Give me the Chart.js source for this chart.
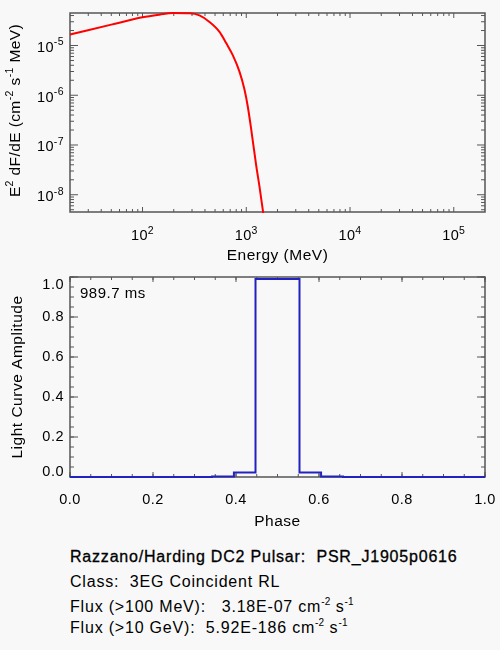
<!DOCTYPE html>
<html>
<head>
<meta charset="utf-8">
<script src="https://cdn.jsdelivr.net/npm/chart.js@4.4.1/dist/chart.umd.min.js"></script>
<style>
html,body{margin:0;padding:0;background:#f8f8f8;}
body{width:500px;height:650px;position:relative;overflow:hidden;font-family:'Liberation Sans',Arial,sans-serif;color:#000;}
#c1{position:absolute;left:0;top:0;}
#c2{position:absolute;left:0;top:270px;}
.line{position:absolute;left:70px;font-size:16px;letter-spacing:0.8px;white-space:pre;line-height:20px;}
.sup{font-size:10px;position:relative;top:-7px;letter-spacing:0.2px;}
#l1{-webkit-text-stroke:0.3px #000;}
</style>
</head>
<body>
<canvas id="c1" width="500" height="270" style="width:500px;height:270px"></canvas>
<canvas id="c2" width="500" height="265" style="width:500px;height:265px"></canvas>
<div id="l1" class="line" style="top:547px"></div>
<div id="l2" class="line" style="top:572px"></div>
<div id="l3" class="line" style="top:597px"></div>
<div id="l4" class="line" style="top:618px"></div>
<script>
// ---------- data ----------
const energyMeV = [20, 50, 100, 146, 196, 284, 354, 442, 552, 640, 741, 860, 961, 1034, 1115, 1246, 1340, 1442, 1500];
const e2dFdE   = [1.66e-5, 2.63e-5, 3.68e-5, 4.17e-5, 4.5e-5, 4.45e-5, 4.04e-5, 2.98e-5, 1.88e-5, 1.12e-5,
                  6.4e-6, 2.98e-6, 1.3e-6, 5.94e-7, 2.09e-7, 3.9e-8, 1.47e-8, 5.0e-9, 2.6e-9];

const phaseBinStart = [0.0, 0.342, 0.395, 0.447, 0.553, 0.605, 0.658, 1.0];
const amplitude     = [0.0, 0.003, 0.023, 0.99, 0.023, 0.003, 0.0, 0.0];

const energyTickValues = [1e2, 1e3, 1e4, 1e5];
const energyTickExp    = ['2', '3', '4', '5'];
const fluxTickValues   = [1e-8, 1e-7, 1e-6, 1e-5];
const fluxTickExp      = ['-8', '-7', '-6', '-5'];
const phaseTickValues  = [0, 0.2, 0.4, 0.6, 0.8, 1.0];
const phaseTickLabels  = ['0.0', '0.2', '0.4', '0.6', '0.8', '1.0'];
const ampTickValues    = [0, 0.2, 0.4, 0.6, 0.8, 1.0];
const ampTickLabels    = ['0.0', '0.2', '0.4', '0.6', '0.8', '1.0'];

const spectrumYTitle = [['E',0],['2',1],[' dF/dE (cm',0],['-2',1],[' s',0],['-1',1],[' MeV)',0]];
const periodLabel = '989.7 ms';
const pulsarTitle = 'Razzano/Harding DC2 Pulsar:  PSR_J1905p0616';
const pulsarClass = 'Class:  3EG Coincident RL';
const flux100Label = 'Flux (>100 MeV):   ';
const flux100Value = '3.18E-07';
const flux10GLabel = 'Flux (>10 GeV):  ';
const flux10GValue = '5.92E-186';

// ---------- minor tick helpers ----------
function logMinors(lo, hi){
  const out=[];
  for(let e=Math.floor(Math.log10(lo)); e<=Math.ceil(Math.log10(hi)); e++){
    for(let m=2;m<=9;m++){ const v=m*Math.pow(10,e); if(v>lo && v<hi) out.push(v); }
  }
  return out;
}
function linMinors(lo, hi, step){
  const out=[]; const n=Math.round((hi-lo)/step);
  for(let i=0;i<=n;i++) out.push(lo+i*step);
  return out;
}

const FONT = "'Liberation Sans', 'DejaVu Sans', sans-serif";
const FRAME = '#555555';

const frameTicks = {
  id:'frameTicks',
  beforeDraw(chart){ try{ chart.ctx.letterSpacing='0.5px'; }catch(e){} },
  beforeDatasetsDraw(chart, args, o){
    const {ctx, chartArea:a, scales} = chart;
    const xs=scales.x, ys=scales.y;
    ctx.save();
    ctx.strokeStyle=FRAME; ctx.lineWidth=1;
    const dx=(vals,len)=>vals.forEach(v=>{
      const p=xs.getPixelForValue(v); if(p<a.left-0.5||p>a.right+0.5) return;
      ctx.beginPath(); ctx.moveTo(p,a.bottom); ctx.lineTo(p,a.bottom-len);
      ctx.moveTo(p,a.top); ctx.lineTo(p,a.top+len); ctx.stroke();
    });
    const dy=(vals,len)=>vals.forEach(v=>{
      const p=ys.getPixelForValue(v); if(p<a.top-0.5||p>a.bottom+0.5) return;
      ctx.beginPath(); ctx.moveTo(a.left,p); ctx.lineTo(a.left+len,p);
      ctx.moveTo(a.right,p); ctx.lineTo(a.right-len,p); ctx.stroke();
    });
    dx(o.xMinor,3); dx(o.xMajor,5); dy(o.yMinor,4); dy(o.yMajor,8);
    ctx.lineWidth=1.5;
    ctx.strokeRect(a.left,a.top,a.right-a.left,a.bottom-a.top);
    ctx.restore();
  }
};

// rich text (base + superscripts) drawn on canvas
function richWidth(ctx, parts, size, supSize){
  let w=0;
  parts.forEach(([t,s])=>{ ctx.font=(s?supSize:size)+'px '+FONT; w+=ctx.measureText(t).width; });
  return w;
}
function drawRich(ctx, parts, x, y, align, size, supSize, raise){
  const w=richWidth(ctx, parts, size, supSize);
  let cx = align==='center' ? x-w/2 : (align==='right' ? x-w : x);
  ctx.textAlign='left'; ctx.textBaseline='alphabetic';
  parts.forEach(([t,s])=>{
    ctx.font=(s?supSize:size)+'px '+FONT;
    ctx.fillText(t, cx, s ? y-raise : y);
    cx+=ctx.measureText(t).width;
  });
}

const logLabels = {
  id:'logLabels',
  afterDraw(chart){
    const {ctx, chartArea:a, scales} = chart;
    ctx.save();
    try{ ctx.letterSpacing='0.4px'; }catch(e){}
    ctx.fillStyle='#000';
    energyTickValues.forEach((v,i)=>{
      const p=scales.x.getPixelForValue(v);
      drawRich(ctx, [['10',0],[energyTickExp[i],1]], p, a.bottom+28, 'center', 14.5, 10.5, 6.5);
    });
    fluxTickValues.forEach((v,i)=>{
      const p=scales.y.getPixelForValue(v);
      drawRich(ctx, [['10',0],[fluxTickExp[i],1]], a.left-6, p+6.5, 'right', 14.5, 10.5, 6.5);
    });
    // rotated y title
    ctx.translate(14, (a.top+a.bottom)/2 - 2);
    ctx.rotate(-Math.PI/2);
    drawRich(ctx, spectrumYTitle, 0, 5.5, 'center', 15.5, 10.5, 6.5);
    ctx.restore();
  }
};

function noPad(s){ s.paddingTop=0; s.paddingBottom=0; s.paddingLeft=0; s.paddingRight=0; }
function axisCommon(){
  return {grid:{display:false,drawTicks:false}, border:{display:false}, bounds:'data'};
}

// ---------- top chart: spectrum ----------
new Chart(document.getElementById('c1'), {
  type:'line',
  data:{datasets:[{
    data: energyMeV.map((e,i)=>({x:e,y:e2dFdE[i]})),
    borderColor:'#ff0000', borderWidth:2, pointRadius:0, fill:false,
    cubicInterpolationMode:'monotone', clip:1
  }]},
  options:{
    responsive:false, animation:false, events:[],
    layout:{padding:{top:13,right:15,left:0,bottom:0}},
    plugins:{legend:{display:false}, tooltip:{enabled:false},
      frameTicks:{xMajor:energyTickValues, xMinor:logMinors(20,2e5),
                  yMajor:fluxTickValues, yMinor:logMinors(4.5e-9,4.5e-5)}},
    scales:{
      x:Object.assign(axisCommon(),{
        type:'logarithmic', position:'bottom', min:20, max:2e5,
        afterBuildTicks:s=>{ s.ticks=energyTickValues.map(v=>({value:v})); },
        afterFit:s=>{ s.height=58; noPad(s); },
        ticks:{display:false},
        title:{display:true,text:'Energy (MeV)',color:'#000',font:{family:FONT,size:15.5},padding:{top:0,bottom:5}}
      }),
      y:Object.assign(axisCommon(),{
        type:'logarithmic', position:'left', min:4.5e-9, max:4.5e-5,
        afterBuildTicks:s=>{ s.ticks=fluxTickValues.map(v=>({value:v})); },
        afterFit:s=>{ s.width=70; noPad(s); },
        ticks:{display:false},
        title:{display:false}
      })
    }
  },
  plugins:[frameTicks, logLabels]
});

// ---------- bottom chart: light curve ----------
const nudge = {
  id:'nudge',
  beforeDraw(chart){
    try{
      const items=chart.scales.y.getLabelItems();
      items.forEach(it=>{
        if(it._n) return;
        if(it.label==='0.0'){ it.options.translation[1]-=5; }
        if(it.label==='1.0'){ it.options.translation[1]+=7.5; }
        it._n=true;
      });
    }catch(e){}
  },
  afterDraw(chart){
    const {ctx, chartArea:a}=chart;
    ctx.save();
    try{ ctx.letterSpacing='0.5px'; }catch(e){}
    ctx.font="15px "+FONT; ctx.fillStyle='#000'; ctx.textBaseline='alphabetic'; ctx.textAlign='left';
    ctx.fillText(periodLabel, a.left+10, a.top+21);
    ctx.restore();
  }
};

new Chart(document.getElementById('c2'), {
  type:'line',
  data:{datasets:[{
    data: phaseBinStart.map((p,i)=>({x:p,y:amplitude[i]})),
    borderColor:'#2222c0', borderWidth:2, pointRadius:0, fill:false,
    stepped:'before', clip:3
  }]},
  options:{
    responsive:false, animation:false, events:[],
    layout:{padding:{top:7,right:15,left:0,bottom:0}},
    plugins:{legend:{display:false}, tooltip:{enabled:false},
      frameTicks:{xMajor:phaseTickValues, xMinor:linMinors(0,1,0.05),
                  yMajor:ampTickValues, yMinor:linMinors(0,1,0.05)}},
    scales:{
      x:Object.assign(axisCommon(),{
        type:'linear', position:'bottom', min:0, max:1,
        afterBuildTicks:s=>{ s.ticks=phaseTickValues.map(v=>({value:v})); },
        afterFit:s=>{ s.height=58; noPad(s); },
        ticks:{autoSkip:false,maxRotation:0,padding:14,color:'#000',font:{family:FONT,size:14.5},
               callback:(v,i)=>phaseTickLabels[i]},
        title:{display:true,text:'Phase',color:'#000',font:{family:FONT,size:15.5},padding:{top:0,bottom:4}}
      }),
      y:Object.assign(axisCommon(),{
        type:'linear', position:'left', min:0, max:1,
        afterBuildTicks:s=>{ s.ticks=ampTickValues.map(v=>({value:v})); },
        afterFit:s=>{ s.width=70; noPad(s); },
        ticks:{autoSkip:false,padding:6,color:'#000',font:{family:FONT,size:14.5},
               callback:(v,i)=>ampTickLabels[i]},
        title:{display:true,text:'Light Curve Amplitude',color:'#000',font:{family:FONT,size:15.5},padding:{top:8,bottom:0}}
      })
    }
  },
  plugins:[frameTicks, nudge]
});

// ---------- info text ----------
function esc(s){return s.replace(/&/g,'&amp;').replace(/</g,'&lt;').replace(/>/g,'&gt;');}
const units = ' cm<span class="sup">-2</span> s<span class="sup">-1</span>';
document.getElementById('l1').textContent = pulsarTitle;
document.getElementById('l2').textContent = pulsarClass;
document.getElementById('l3').innerHTML = esc(flux100Label)+esc(flux100Value)+units;
document.getElementById('l4').innerHTML = esc(flux10GLabel)+esc(flux10GValue)+units;
</script>
</body>
</html>
